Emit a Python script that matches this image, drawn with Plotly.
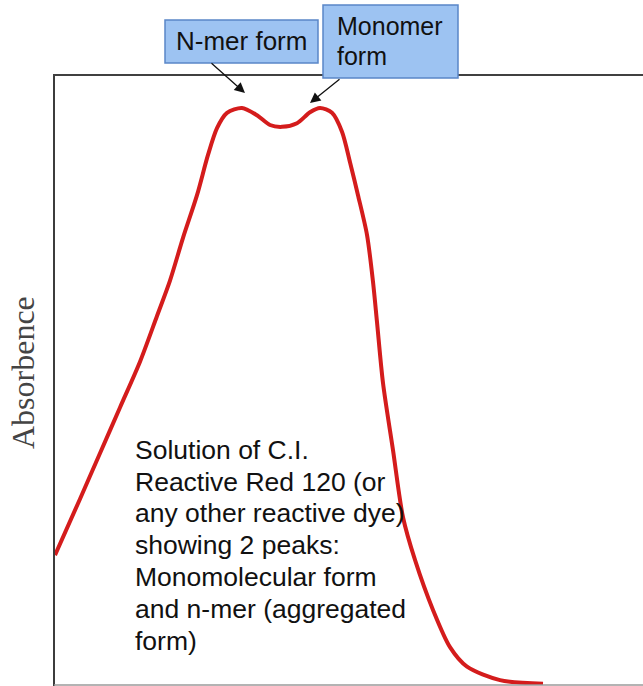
import plotly.graph_objects as go

# Spectrum (relative wavelength, absorbance 0..1)
wavelength = [1, 26, 46, 66, 86, 103, 116, 129, 143, 154, 163, 173, 188, 203, 216, 228,
              243, 256, 266, 278, 288, 296, 304, 313, 319, 323, 329, 339, 349, 361,
              379, 396, 413, 446, 489]
absorbance = [0.213, 0.305, 0.380, 0.455, 0.530, 0.605, 0.663, 0.733, 0.803, 0.869,
              0.913, 0.938, 0.946, 0.934, 0.918, 0.915, 0.921, 0.939, 0.946, 0.938,
              0.907, 0.857, 0.803, 0.738, 0.661, 0.595, 0.495, 0.385, 0.275, 0.205,
              0.123, 0.062, 0.030, 0.008, 0.002]

y_title = "Absorbence"
body_lines = ["Solution of C.I.", "Reactive Red 120 (or", "any other reactive dye)",
              "showing 2 peaks:", "Monomolecular form", "and n-mer (aggregated", "form)"]
nmer_label = "N-mer form"
mono_lines = ["Monomer", "form"]

W, H = 643, 686
L, T, B = 54, 75, 685
XMAX = 589.0


def pxx(px):
    return (px - L) / (W - L)


def pxy(py):
    return (B - py) / (B - T)


fig = go.Figure()
fig.add_trace(go.Scatter(
    x=wavelength, y=absorbance, mode="lines",
    line=dict(color="#d41c1c", width=4, shape="spline", smoothing=0.8),
    cliponaxis=False, hoverinfo="skip", showlegend=False))

shapes = [
    dict(type="line", xref="paper", yref="paper", x0=pxx(54), x1=pxx(54),
         y0=pxy(686), y1=pxy(74), line=dict(color="#3c3c3c", width=2)),
    dict(type="line", xref="paper", yref="paper", x0=pxx(53), x1=1.0,
         y0=pxy(75), y1=pxy(75), line=dict(color="#404040", width=2)),
    dict(type="line", xref="paper", yref="paper", x0=pxx(54), x1=1.0,
         y0=pxy(685), y1=pxy(685), line=dict(color="#9a9a9a", width=1.5)),
    dict(type="rect", xref="paper", yref="paper", x0=pxx(165), x1=pxx(318),
         y0=pxy(63), y1=pxy(20), fillcolor="#9dc3f2",
         line=dict(color="#5a86c8", width=1.5)),
    dict(type="rect", xref="paper", yref="paper", x0=pxx(323), x1=pxx(458),
         y0=pxy(78), y1=pxy(5), fillcolor="#9dc3f2",
         line=dict(color="#5a86c8", width=1.5)),
]

ann = []
fs = 26.5
line_base = [459, 491, 522.7, 554.3, 586.7, 618.3, 650]
for txt, base in zip(body_lines, line_base):
    ann.append(dict(x=pxx(133), y=pxy(base - 0.35 * fs), xref="paper", yref="paper",
                    text=txt, showarrow=False, xanchor="left", yanchor="middle",
                    font=dict(family="Liberation Sans, Arial", size=fs, color="#111111")))

ann.append(dict(x=pxx(241.5), y=pxy(50 - 0.35 * 26), xref="paper", yref="paper",
                text=nmer_label, showarrow=False, xanchor="center", yanchor="middle",
                font=dict(family="Liberation Sans, Arial", size=26, color="#111111")))
for txt, base in zip(mono_lines, [35, 65]):
    ann.append(dict(x=pxx(335), y=pxy(base - 0.35 * 25), xref="paper", yref="paper",
                    text=txt, showarrow=False, xanchor="left", yanchor="middle",
                    font=dict(family="Liberation Sans, Arial", size=25, color="#111111")))

# arrows
ann.append(dict(x=pxx(245), y=pxy(93), xref="paper", yref="paper", text="", showarrow=True,
                ax=210 - 245, ay=62 - 93, arrowhead=2, arrowsize=1.6, arrowwidth=1.3,
                arrowcolor="#111111", standoff=0, startstandoff=0))
ann.append(dict(x=pxx(310), y=pxy(103), xref="paper", yref="paper", text="", showarrow=True,
                ax=341 - 310, ay=78 - 103, arrowhead=2, arrowsize=1.6, arrowwidth=1.3,
                arrowcolor="#111111", standoff=0, startstandoff=0))

# y title
ann.append(dict(x=pxx(23), y=pxy(373), xref="paper", yref="paper", text=y_title,
                showarrow=False, textangle=-90, xanchor="center", yanchor="middle",
                font=dict(family="Liberation Serif, Times New Roman", size=32, color="#444444")))

fig.update_layout(
    width=W, height=H,
    margin=dict(l=L, r=0, t=T, b=H - B),
    paper_bgcolor="white", plot_bgcolor="white",
    xaxis=dict(range=[0, XMAX], visible=False, fixedrange=True),
    yaxis=dict(range=[0, 1], visible=False, fixedrange=True),
    shapes=shapes, annotations=ann, showlegend=False,
)

fig.write_html("out.html", config={"displayModeBar": False},
               post_script="document.body.style.margin='0px';document.body.style.overflow='hidden';")
